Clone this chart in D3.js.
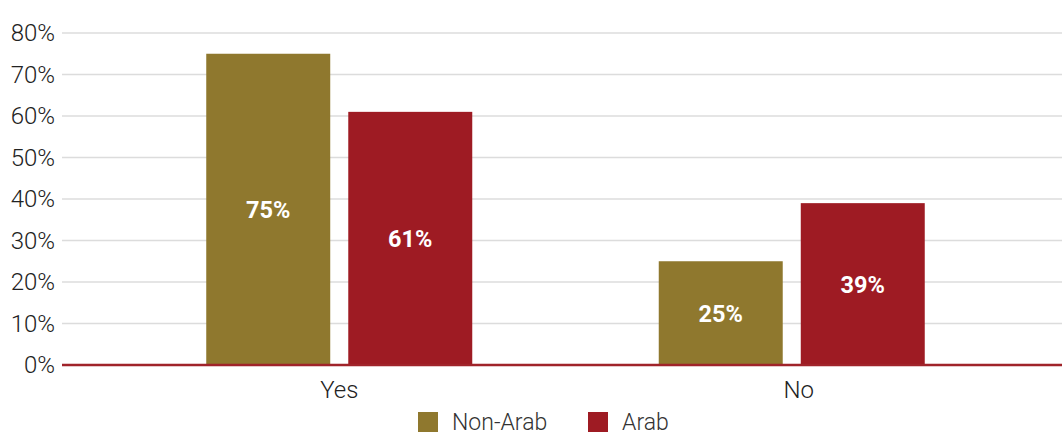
<!DOCTYPE html>
<html>
<head>
<meta charset="utf-8">
<script src="https://cdn.jsdelivr.net/npm/d3@7"></script>
<style>
  html, body { margin: 0; padding: 0; background: #fff; }
  svg { display: block; font-family: Roboto, "DejaVu Sans", sans-serif; }
</style>
</head>
<body>
<svg id="chart" width="1062" height="435"></svg>
<script>
// Survey answers by group (percent)
const categories = ["Yes", "No"];
const seriesNames = ["Non-Arab", "Arab"];
const nonArab = [75, 25];
const arab = [61, 39];
const yTicks = [0, 10, 20, 30, 40, 50, 60, 70, 80];
const colors = ["#8f782e", "#9e1b23"];

const svg = d3.select("#chart");
const plotLeft = 62, plotRight = 1062;
const y = d3.scaleLinear().domain([0, 80]).range([365, 33]);
const x = d3.scaleBand().domain(categories).range([113, 1018]).paddingInner(0).paddingOuter(0);
const xs = d3.scaleBand().domain(seriesNames).range([x.bandwidth() / 2 - 133, x.bandwidth() / 2 + 133]).paddingInner(0.127).paddingOuter(0);

// Gridlines
svg.append("g").selectAll("line").data(yTicks.filter(d => d > 0)).join("line")
  .attr("x1", plotLeft).attr("x2", plotRight)
  .attr("y1", d => y(d)).attr("y2", d => y(d))
  .attr("stroke", "#dcdcdc").attr("stroke-width", 1.5);

// Y-axis labels
const yAxis = d3.axisLeft(y).tickValues(yTicks).tickFormat(d => d + "%").tickSize(0).tickPadding(0);
const ya = svg.append("g").attr("transform", "translate(55,0)").call(yAxis);
ya.select(".domain").remove();
ya.selectAll("text").attr("font-size", 24).attr("fill", "#222").attr("font-family", "Roboto, sans-serif").attr("font-weight", 300);

// Bars
const rows = categories.map((c, i) => ({ cat: c, vals: [nonArab[i], arab[i]] }));
const groups = svg.append("g").selectAll("g").data(rows).join("g")
  .attr("transform", d => `translate(${x(d.cat)},0)`);

groups.selectAll("rect").data(d => d.vals.map((v, j) => ({ v, s: seriesNames[j], j }))).join("rect")
  .attr("x", d => xs(d.s)).attr("width", xs.bandwidth())
  .attr("y", d => y(d.v)).attr("height", d => y(0) - y(d.v))
  .attr("fill", d => colors[d.j]);

groups.selectAll("text").data(d => d.vals.map((v, j) => ({ v, s: seriesNames[j] }))).join("text")
  .attr("x", d => xs(d.s) + xs.bandwidth() / 2)
  .attr("y", d => (y(d.v) + y(0)) / 2)
  .attr("dy", "0.38em")
  .attr("text-anchor", "middle")
  .attr("fill", "#fff").attr("font-size", 23.5).attr("font-weight", 700)
  .text(d => d.v + "%");

// Baseline
svg.append("line").attr("x1", plotLeft).attr("x2", plotRight)
  .attr("y1", y(0)).attr("y2", y(0))
  .attr("stroke", "#a0232a").attr("stroke-width", 2.5);

// Category labels
const xAxis = d3.axisBottom(x).tickSize(0).tickPadding(0);
const xa = svg.append("g").attr("transform", `translate(0,${y(0) + 16})`).call(xAxis);
xa.select(".domain").remove();
xa.selectAll("text").attr("font-size", 24).attr("fill", "#222").attr("font-family", "Roboto, sans-serif").attr("font-weight", 300).attr("dy", "0.7em")
  .attr("dx", (d, i) => i === 1 ? 7 : 0);

// Legend
const legendPos = [418, 588];
const legend = svg.append("g").selectAll("g").data(seriesNames).join("g")
  .attr("transform", (d, i) => `translate(${legendPos[i]},412)`);
legend.append("rect").attr("width", 20).attr("height", 20).attr("fill", (d, i) => colors[i]);
legend.append("text").attr("x", 34).attr("y", 18)
  .attr("font-size", 23).attr("font-weight", 300).attr("fill", "#333").text(d => d);
</script>
</body>
</html>
